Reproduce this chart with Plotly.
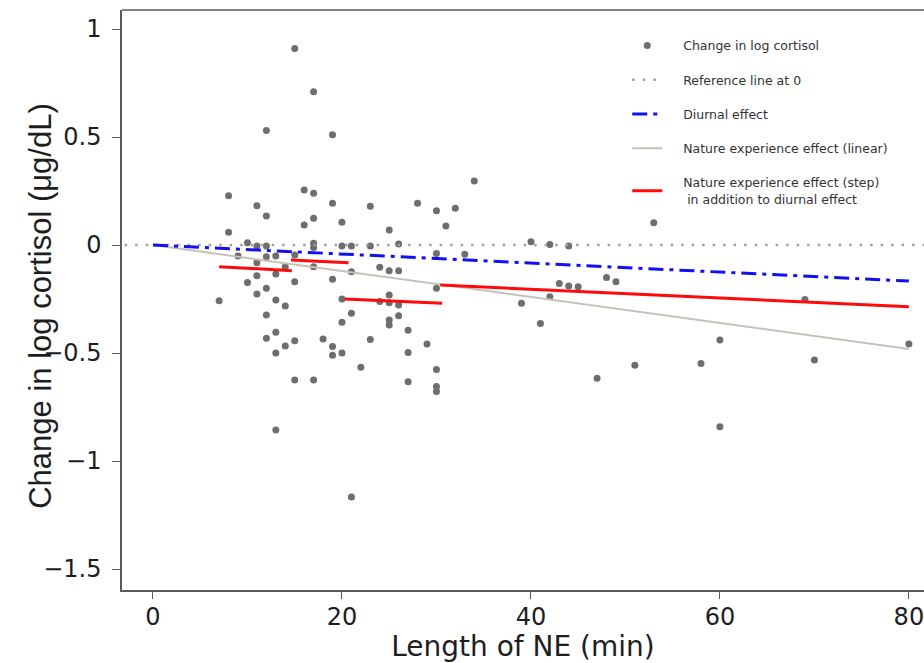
import plotly.graph_objects as go

# ---- data ----
ne_minutes = [15, 17, 12, 19, 8, 11, 12, 16, 17, 19, 17, 16, 20, 23, 8,
              10, 11, 12, 17, 17, 20, 21, 9, 12, 13, 15, 11, 14, 17, 21,
              11, 13, 10, 15, 19, 12, 11, 13, 14, 7, 20, 12, 21, 20, 13,
              12, 15, 14, 18, 19, 19, 20, 13, 23, 22, 15, 17, 13, 21, 25,
              23, 26, 24, 25, 26, 24, 25, 25, 26, 25, 25, 26, 27, 27, 27,
              34, 28, 30, 32, 31, 30, 33, 30, 29, 30, 30, 30, 40, 42, 44,
              48, 49, 43, 44, 45, 42, 39, 41, 51, 47, 53, 69, 60, 80, 58,
              70, 60]
log_cortisol_change = [0.91, 0.71, 0.53, 0.51, 0.228, 0.182, 0.134, 0.255, 0.24, 0.193,
                       0.124, 0.093, 0.105, 0.18, 0.059, 0.011, -0.005, -0.005, 0.008, -0.011,
                       -0.005, -0.005, -0.051, -0.054, -0.051, -0.046, -0.082, -0.1, -0.1, -0.124,
                       -0.142, -0.134, -0.174, -0.17, -0.159, -0.2, -0.227, -0.255, -0.282, -0.258,
                       -0.25, -0.324, -0.316, -0.358, -0.404, -0.432, -0.443, -0.468, -0.435, -0.47,
                       -0.51, -0.5, -0.5, -0.437, -0.566, -0.625, -0.625, -0.856, -1.167, 0.069,
                       -0.005, 0.005, -0.103, -0.119, -0.119, -0.262, -0.231, -0.267, -0.278, -0.347,
                       -0.37, -0.327, -0.394, -0.498, -0.633, 0.296, 0.193, 0.159, 0.17, 0.088,
                       -0.039, -0.043, -0.2, -0.458, -0.576, -0.655, -0.678, 0.015, 0.003, -0.005,
                       -0.15, -0.17, -0.178, -0.19, -0.193, -0.239, -0.27, -0.363, -0.556, -0.617,
                       0.103, -0.252, -0.44, -0.458, -0.548, -0.532, -0.841]

reference_x = [-3, 82]
reference_y = [0, 0]

diurnal_x = [0, 80]
diurnal_y = [0, -0.167]

linear_x = [0, 80]
linear_y = [0, -0.481]

step_x_start = [7, 14.6, 20.3, 30.4]
step_x_end = [14.7, 20.7, 30.6, 80]
step_y_start = [-0.100, -0.069, -0.250, -0.185]
step_y_end = [-0.119, -0.082, -0.270, -0.286]

x_ticks = [0, 20, 40, 60, 80]
y_ticks = [1, 0.5, 0, -0.5, -1, -1.5]
y_tick_labels = ["1", "0.5", "0", "\u22120.5", "\u22121", "\u22121.5"]

x_title = "Length of NE (min)"
y_title = "Change in log cortisol (\u03bcg/dL)"

legend_names = [
    "Change in log cortisol",
    "Reference line at 0",
    "Diurnal effect",
    "Nature experience effect (linear)",
    "Nature experience effect (step)<br> in addition to diurnal effect",
]

WIDE = "DejaVu Sans, Verdana, sans-serif"
ARIAL = "Liberation Sans, Arial, Helvetica, sans-serif"
AXIS_COLOR = "#5a5a5a"
TEXT_COLOR = "#1e1e1e"
PAD = "\u00a0\u00a0\u00a0\u00a0"


def pad(name):
    return PAD + name.replace("<br>", "<br>" + PAD)


fig = go.Figure()

fig.add_trace(go.Scatter(
    x=ne_minutes, y=log_cortisol_change, mode="markers",
    name=pad(legend_names[0]), legendgroup="a", legendrank=1,
    marker=dict(color="#6e6e6e", size=7, line=dict(width=0)),
))

fig.add_trace(go.Scatter(
    x=reference_x, y=reference_y, mode="lines",
    name=pad(legend_names[1]), legendgroup="b", legendrank=2,
    line=dict(color="#a0a0a0", width=2.5, dash="2.5px,8px"),
))

fig.add_trace(go.Scatter(
    x=linear_x, y=linear_y, mode="lines",
    name=pad(legend_names[3]), legendgroup="d", legendrank=4,
    line=dict(color="#c6c2ba", width=2),
))

fig.add_trace(go.Scatter(
    x=diurnal_x, y=diurnal_y, mode="lines",
    name=pad(legend_names[2]), legendgroup="c", legendrank=3,
    line=dict(color="#1010f0", width=3, dash="15px,6px,4px,6px"),
))

for i in range(len(step_x_start)):
    fig.add_trace(go.Scatter(
        x=[step_x_start[i], step_x_end[i]], y=[step_y_start[i], step_y_end[i]],
        mode="lines",
        name=pad(legend_names[4]),
        legendgroup="e", legendrank=5, showlegend=(i == 0),
        line=dict(color="#ff0a0a", width=3),
    ))

fig.update_layout(
    width=924, height=663,
    margin=dict(l=122, r=0, t=10, b=73),
    paper_bgcolor="white", plot_bgcolor="white",
    font=dict(family=ARIAL, color=TEXT_COLOR),
    legend=dict(
        x=0.63, y=0.964, xanchor="left", yanchor="top",
        bgcolor="rgba(0,0,0,0)",
        font=dict(family=WIDE, size=12.5, color="#333333"),
        tracegroupgap=15, traceorder="grouped",
        itemwidth=30,
    ),
    showlegend=True,
)

fig.update_xaxes(
    range=[-3.28, 81.6],
    tickvals=x_ticks, ticktext=[str(v) for v in x_ticks],
    showgrid=False, zeroline=False,
    showline=True, linecolor=AXIS_COLOR, linewidth=1.5,
    ticks="outside", ticklen=7, tickcolor=AXIS_COLOR, tickwidth=1.2,
    ticklabeloverflow="allow", ticklabelstandoff=-3,
    tickfont=dict(size=24, family=WIDE, color=TEXT_COLOR),
    title=dict(text=x_title, font=dict(size=28, family=WIDE, color=TEXT_COLOR), standoff=4),
)
fig.update_yaxes(
    range=[-1.597, 1.088],
    tickvals=y_ticks, ticktext=y_tick_labels,
    showgrid=False, zeroline=False,
    showline=True, linecolor=AXIS_COLOR, linewidth=1.5,
    ticks="outside", ticklen=8, tickcolor=AXIS_COLOR, tickwidth=1.2,
    ticklabelstandoff=6,
    tickfont=dict(size=24, family=WIDE, color=TEXT_COLOR),
)

fig.add_annotation(
    text=y_title, textangle=-90, showarrow=False,
    xref="paper", yref="paper", x=0, xshift=-81, y=0.49,
    xanchor="center", yanchor="middle",
    font=dict(size=31, family=ARIAL, color=TEXT_COLOR),
)

fig.add_shape(type="line", xref="paper", yref="paper", x0=0, x1=1, y0=1, y1=1,
              line=dict(color=AXIS_COLOR, width=1.5))

fig.write_html(
    "out.html",
    config={"displayModeBar": False},
    post_script="document.body.style.margin='0px';document.body.style.overflow='hidden';",
)
